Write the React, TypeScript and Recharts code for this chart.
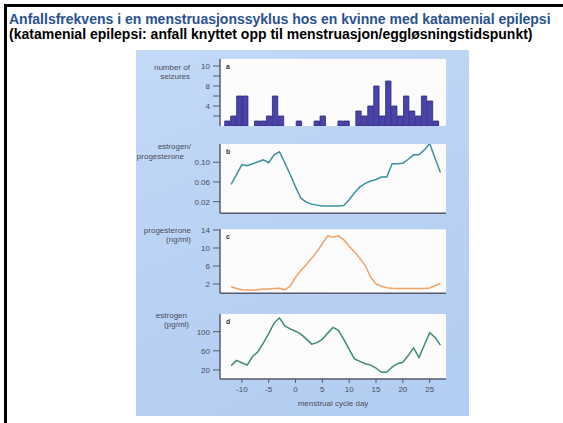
import { Bar, BarChart, CartesianGrid, Line, LineChart, XAxis, YAxis } from "recharts";

// seizures per day (bars, panel a)
const seizureCounts = [1, 2, 6, 6, 0, 1, 1, 2, 6, 2, 0, 0, 1, 0, 0, 1, 2, 0, 0, 1, 1, 0, 3, 2, 4, 8, 2, 9, 4, 2, 6, 3, 2, 6, 5, 1];
const seizureTicks = [2, 4, 6, 8, 10, 12];
const seizureTickLabels = ["", "4", "", "8", "", "10"];

// hormone curves (panels b-d), one value per cycle day
const cycleDays = [-12, -11, -10, -9, -8, -7, -6, -5, -4, -3, -2, -1, 0, 1, 2, 3, 4, 5, 6, 7, 8, 9, 10, 11, 12, 13, 14, 15, 16, 17, 18, 19, 20, 21, 22, 23, 24, 25, 26, 27];
const ratioValues = [0.055, 0.075, 0.095, 0.093, 0.097, 0.101, 0.105, 0.099, 0.115, 0.121, 0.099, 0.075, 0.05, 0.027, 0.019, 0.015, 0.013, 0.011, 0.011, 0.011, 0.011, 0.012, 0.024, 0.038, 0.05, 0.057, 0.062, 0.065, 0.07, 0.07, 0.097, 0.097, 0.098, 0.106, 0.115, 0.115, 0.125, 0.138, 0.108, 0.079];
const progesteroneValues = [1.4, 1.0, 0.7, 0.65, 0.65, 0.7, 0.9, 0.9, 1.0, 1.05, 0.7, 1.5, 3.5, 5.0, 6.3, 7.7, 9.2, 11.0, 12.7, 12.4, 12.7, 11.8, 10.4, 9.1, 7.7, 6.1, 3.5, 2.0, 1.5, 1.15, 1.05, 1.0, 1.0, 1.0, 1.0, 1.0, 1.0, 1.1, 1.6, 2.1];
const estrogenValues = [29, 40, 35, 30, 48, 58, 76, 96, 118, 129, 112, 106, 101, 95, 85, 74, 77, 84, 97, 109, 103, 84, 63, 43, 38, 33, 30, 24, 15, 15, 26, 33, 36, 50, 66, 46, 72, 98, 88, 72];

const dayTicks = [-10, -5, 0, 5, 10, 15, 20, 25];
const ratioTicks = [0.02, 0.06, 0.1];
const progesteroneTicks = [2, 6, 10, 14];
const estrogenTicks = [20, 60, 100];

const seizureRows = seizureCounts.map((count, slot) => ({ slot, count }));
const hormoneRows = cycleDays.map((day, i) => ({
  day,
  ratio: ratioValues[i],
  progesterone: progesteroneValues[i],
  estrogen: estrogenValues[i],
}));

const FONT = '"Liberation Sans", Arial, Helvetica, sans-serif';
const TEXT = "#4b4d5c";
const FRAME = "#575b6d";
const PLOT_BG = "#fcfcfd";
const CHART_W = 333;
const Y_AXIS_W = 30;
const tickStyle = { fontSize: 8, fill: TEXT, fontFamily: FONT };
const frameLine = { stroke: FRAME, strokeWidth: 1.5 };
const DAY_DOMAIN: [number, number] = [-14.07, 28.04];

// closes the plot box on the top and right
function frameAxes() {
  return [
    <XAxis
      key="top"
      xAxisId="top"
      orientation="top"
      type="number"
      domain={[0, 1]}
      height={0}
      tick={false}
      tickLine={false}
      axisLine={frameLine}
    />,
    <YAxis
      key="right"
      yAxisId="right"
      orientation="right"
      domain={[0, 1]}
      width={0}
      tick={false}
      tickLine={false}
      axisLine={frameLine}
    />,
  ];
}

function SideLabel({ text, right, cy }: { text: string; right: number; cy: number }) {
  return (
    <div
      style={{
        position: "absolute",
        right: 563 - right,
        top: cy - 5,
        lineHeight: "10px",
        fontSize: 8,
        color: TEXT,
        fontFamily: FONT,
        whiteSpace: "nowrap",
      }}
    >
      {text}
    </div>
  );
}

function PanelLetter({ text, top }: { text: string; top: number }) {
  return (
    <div
      style={{
        position: "absolute",
        left: 226,
        top,
        lineHeight: "8px",
        fontSize: 7,
        fontWeight: 700,
        color: "#333",
        fontFamily: FONT,
      }}
    >
      {text}
    </div>
  );
}

function SeizureChart() {
  return (
    <BarChart
      width={CHART_W}
      height={75}
      data={seizureRows}
      margin={{ top: 8, right: 23, bottom: 0, left: 84 - Y_AXIS_W }}
      barSize={6}
    >
      <CartesianGrid horizontal={false} vertical={false} fill={PLOT_BG} />
      <XAxis
        dataKey="slot"
        type="number"
        domain={[-1.29, 36.63]}
        allowDataOverflow
        height={0}
        tick={false}
        tickLine={false}
        axisLine={frameLine}
      />
      <YAxis
        domain={[0, 13.4]}
        allowDataOverflow
        ticks={seizureTicks}
        tickFormatter={(v: number) => seizureTickLabels[seizureTicks.indexOf(v)] ?? ""}
        width={Y_AXIS_W}
        tickSize={7}
        tickMargin={3}
        tick={tickStyle}
        tickLine={{ stroke: FRAME }}
        axisLine={frameLine}
      />
      {frameAxes()}
      <Bar dataKey="count" fill="#4a43ab" stroke="#2c2878" strokeWidth={0.8} isAnimationActive={false} />
    </BarChart>
  );
}

function HormoneChart({
  dataKey,
  color,
  domain,
  ticks,
  format,
  height,
  top,
  bottom,
  xHeight,
  showDays,
}: {
  dataKey: string;
  color: string;
  domain: [number, number];
  ticks: number[];
  format?: (v: number) => string;
  height: number;
  top: number;
  bottom: number;
  xHeight: number;
  showDays: boolean;
}) {
  return (
    <LineChart
      width={CHART_W}
      height={height}
      data={hormoneRows}
      margin={{ top, right: 23, bottom, left: 84 - Y_AXIS_W }}
    >
      <CartesianGrid horizontal={false} vertical={false} fill={PLOT_BG} />
      <XAxis
        dataKey="day"
        type="number"
        domain={DAY_DOMAIN}
        allowDataOverflow
        ticks={dayTicks}
        height={xHeight}
        tickSize={4}
        tickMargin={3}
        tick={showDays ? tickStyle : false}
        tickLine={{ stroke: FRAME }}
        axisLine={frameLine}
        label={
          showDays
            ? {
                value: "menstrual cycle day",
                position: "insideBottom",
                offset: 7,
                style: { fontSize: 8, fill: TEXT, fontFamily: FONT },
              }
            : undefined
        }
      />
      <YAxis
        domain={domain}
        allowDataOverflow
        ticks={ticks}
        tickFormatter={format}
        width={Y_AXIS_W}
        tickSize={7}
        tickMargin={3}
        tick={tickStyle}
        tickLine={{ stroke: FRAME }}
        axisLine={frameLine}
      />
      {frameAxes()}
      <Line
        dataKey={dataKey}
        type="linear"
        stroke={color}
        strokeWidth={1.5}
        dot={false}
        isAnimationActive={false}
      />
    </LineChart>
  );
}

export default function App() {
  return (
    <div
      style={{
        position: "fixed",
        left: 0,
        top: 0,
        width: 563,
        height: 423,
        background: "#fff",
        overflow: "hidden",
        fontFamily: FONT,
      }}
    >
      <div
        style={{
          position: "absolute",
          left: 4,
          top: 4,
          width: 570,
          height: 430,
          borderTop: "3px solid #000",
          borderLeft: "3px solid #000",
        }}
      />
      <div
        style={{
          position: "absolute",
          left: 9,
          top: 12,
          fontSize: 14,
          lineHeight: "15px",
          fontWeight: 700,
          whiteSpace: "nowrap",
        }}
      >
        <div style={{ color: "#2a5190" }}>
          Anfallsfrekvens i en menstruasjonssyklus hos en kvinne med katamenial epilepsi
        </div>
        <div style={{ color: "#000" }}>
          (katamenial epilepsi: anfall knyttet opp til menstruasjon/eggløsningstidspunkt)
        </div>
      </div>

      <div
        style={{
          position: "absolute",
          left: 136,
          top: 50,
          width: 333,
          height: 366,
          background: "linear-gradient(160deg, #c3d9f7 0%, #b7d0f3 60%, #b3cdf2 100%)",
        }}
      />

      <div style={{ position: "absolute", left: 136, top: 51 }}>
        <SeizureChart />
      </div>
      <div style={{ position: "absolute", left: 136, top: 136 }}>
        <HormoneChart
          dataKey="ratio"
          color="#3b90a2"
          domain={[-0.0036, 0.137]}
          ticks={ratioTicks}
          format={(v) => v.toFixed(2)}
          height={82.3}
          top={8}
          bottom={0}
          xHeight={5}
          showDays={false}
        />
      </div>
      <div style={{ position: "absolute", left: 136, top: 221 }}>
        <HormoneChart
          dataKey="progesterone"
          color="#f0a264"
          domain={[-0.07, 14.16]}
          ticks={progesteroneTicks}
          height={77.3}
          top={8.3}
          bottom={0}
          xHeight={5}
          showDays={false}
        />
      </div>
      <div style={{ position: "absolute", left: 136, top: 306 }}>
        <HormoneChart
          dataKey="estrogen"
          color="#3e8c6c"
          domain={[1, 137]}
          ticks={estrogenTicks}
          height={107}
          top={8}
          bottom={0}
          xHeight={34}
          showDays={true}
        />
      </div>

      <SideLabel text="number of" right={190} cy={68} />
      <SideLabel text="seizures" right={190} cy={77} />
      <SideLabel text="estrogen/" right={191} cy={147} />
      <SideLabel text="progesterone" right={184} cy={157} />
      <SideLabel text="progesterone" right={191} cy={231} />
      <SideLabel text="(ng/ml)" right={191} cy={240} />
      <SideLabel text="estrogen" right={187} cy={316} />
      <SideLabel text="(pg/ml)" right={189} cy={325} />

      <PanelLetter text="a" top={63} />
      <PanelLetter text="b" top={148} />
      <PanelLetter text="c" top={233} />
      <PanelLetter text="d" top={318} />
    </div>
  );
}
